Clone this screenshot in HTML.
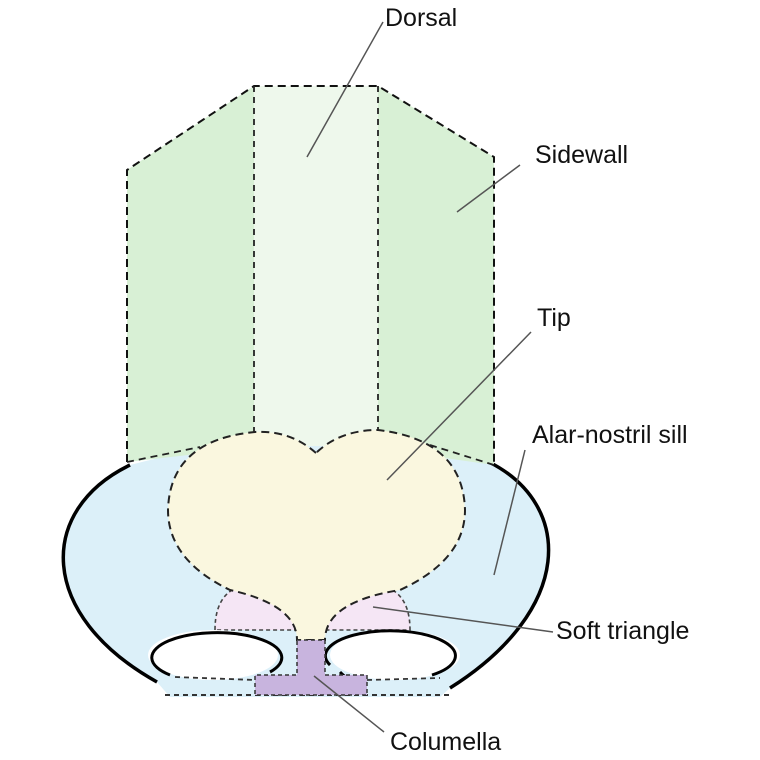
<!DOCTYPE html>
<html><head><meta charset="utf-8"><style>
html,body{margin:0;padding:0;background:#fff;width:760px;height:760px;overflow:hidden}
text{font-family:"Liberation Sans",Arial,sans-serif;font-size:25px;fill:#111}
</style></head><body>
<svg width="760" height="760" viewBox="0 0 760 760" xmlns="http://www.w3.org/2000/svg">
<!-- blue alar region -->
<path d="M130,465 Q319,415 489,462 C574,505 574,610 450,688 L440,697 L170,697 L157,682 C37,615 37,510 130,465 Z" fill="#dcf0f9"/>
<path d="M130,465 C37,510 37,615 157,682" fill="none" stroke="#000" stroke-width="3.5"/>
<path d="M489,462 C574,505 574,610 450,688" fill="none" stroke="#000" stroke-width="3.5"/>
<path d="M165,695 L450,695" stroke="#333" stroke-width="2" stroke-dasharray="5,4" fill="none"/>
<!-- green sidewalls -->
<path d="M127,170 L254,86 L378,86 L494,157 L494,465 L319,440 L127,462 Z" fill="#d8f0d5"/>
<rect x="254" y="86" width="124" height="360" fill="#eef8ec"/>
<path d="M127,462 L127,170 L254,86 L378,86 L494,157 L494,465" fill="none" stroke="#111" stroke-width="2" stroke-dasharray="8,5"/>
<path d="M254,86 L254,445 M378,86 L378,440" fill="none" stroke="#222" stroke-width="1.8" stroke-dasharray="6,5"/>
<path d="M127,462 L200,447 M430,445 L494,465" fill="none" stroke="#222" stroke-width="1.8" stroke-dasharray="7,5"/>
<!-- soft triangles -->
<path d="M215,630 Q215,584 257,584 Q297,584 297,630 Z" fill="#f5e6f5" stroke="#444" stroke-width="1.6" stroke-dasharray="4,3"/>
<path d="M325,630 Q325,584 367,584 Q410,584 410,630 Z" fill="#f5e6f5" stroke="#444" stroke-width="1.6" stroke-dasharray="4,3"/>
<!-- tip heart -->
<path d="M316,453 Q290,430 255,432 Q170,440 168,510 Q168,560 230,590 Q297,605 297,640 L325,640 Q325,602 400,590 Q465,560 465,510 Q463,440 378,430 Q340,430 316,453 Z" fill="#faf7df" stroke="#222" stroke-width="2" stroke-dasharray="8,5"/>
<!-- nostrils -->
<ellipse cx="213" cy="655" rx="65" ry="25" fill="#fff"/>
<ellipse cx="395" cy="655" rx="65" ry="25" fill="#fff"/>
<path d="M170,675 A65,25 0 1 1 270,672" fill="none" stroke="#000" stroke-width="3"/>
<path d="M330,665 A65,25 0 1 1 432,675" fill="none" stroke="#000" stroke-width="3"/>
<path d="M340,672 Q348,680 352,680" fill="none" stroke="#000" stroke-width="3"/>
<path d="M175,677 L255,680 M367,680 L440,678" fill="none" stroke="#333" stroke-width="1.8" stroke-dasharray="5,4"/>
<!-- columella -->
<path d="M297,640 L325,640 L325,675 L367,675 L367,695 L255,695 L255,675 L297,675 Z" fill="#c8b4de" stroke="#333" stroke-width="1.5" stroke-dasharray="4,3"/>
<!-- leader lines -->
<g stroke="#555" stroke-width="1.5">
<line x1="383" y1="22" x2="307" y2="157"/>
<line x1="520" y1="165" x2="457" y2="212"/>
<line x1="531" y1="332" x2="387" y2="480"/>
<line x1="525" y1="450" x2="494" y2="575"/>
<line x1="553" y1="632" x2="373" y2="607"/>
<line x1="384" y1="732" x2="314" y2="676"/>
</g>
<text x="385" y="26">Dorsal</text>
<text x="535" y="163">Sidewall</text>
<text x="537" y="326">Tip</text>
<text x="532" y="443">Alar-nostril sill</text>
<text x="556" y="639">Soft triangle</text>
<text x="390" y="750">Columella</text>
</svg>
</body></html>
